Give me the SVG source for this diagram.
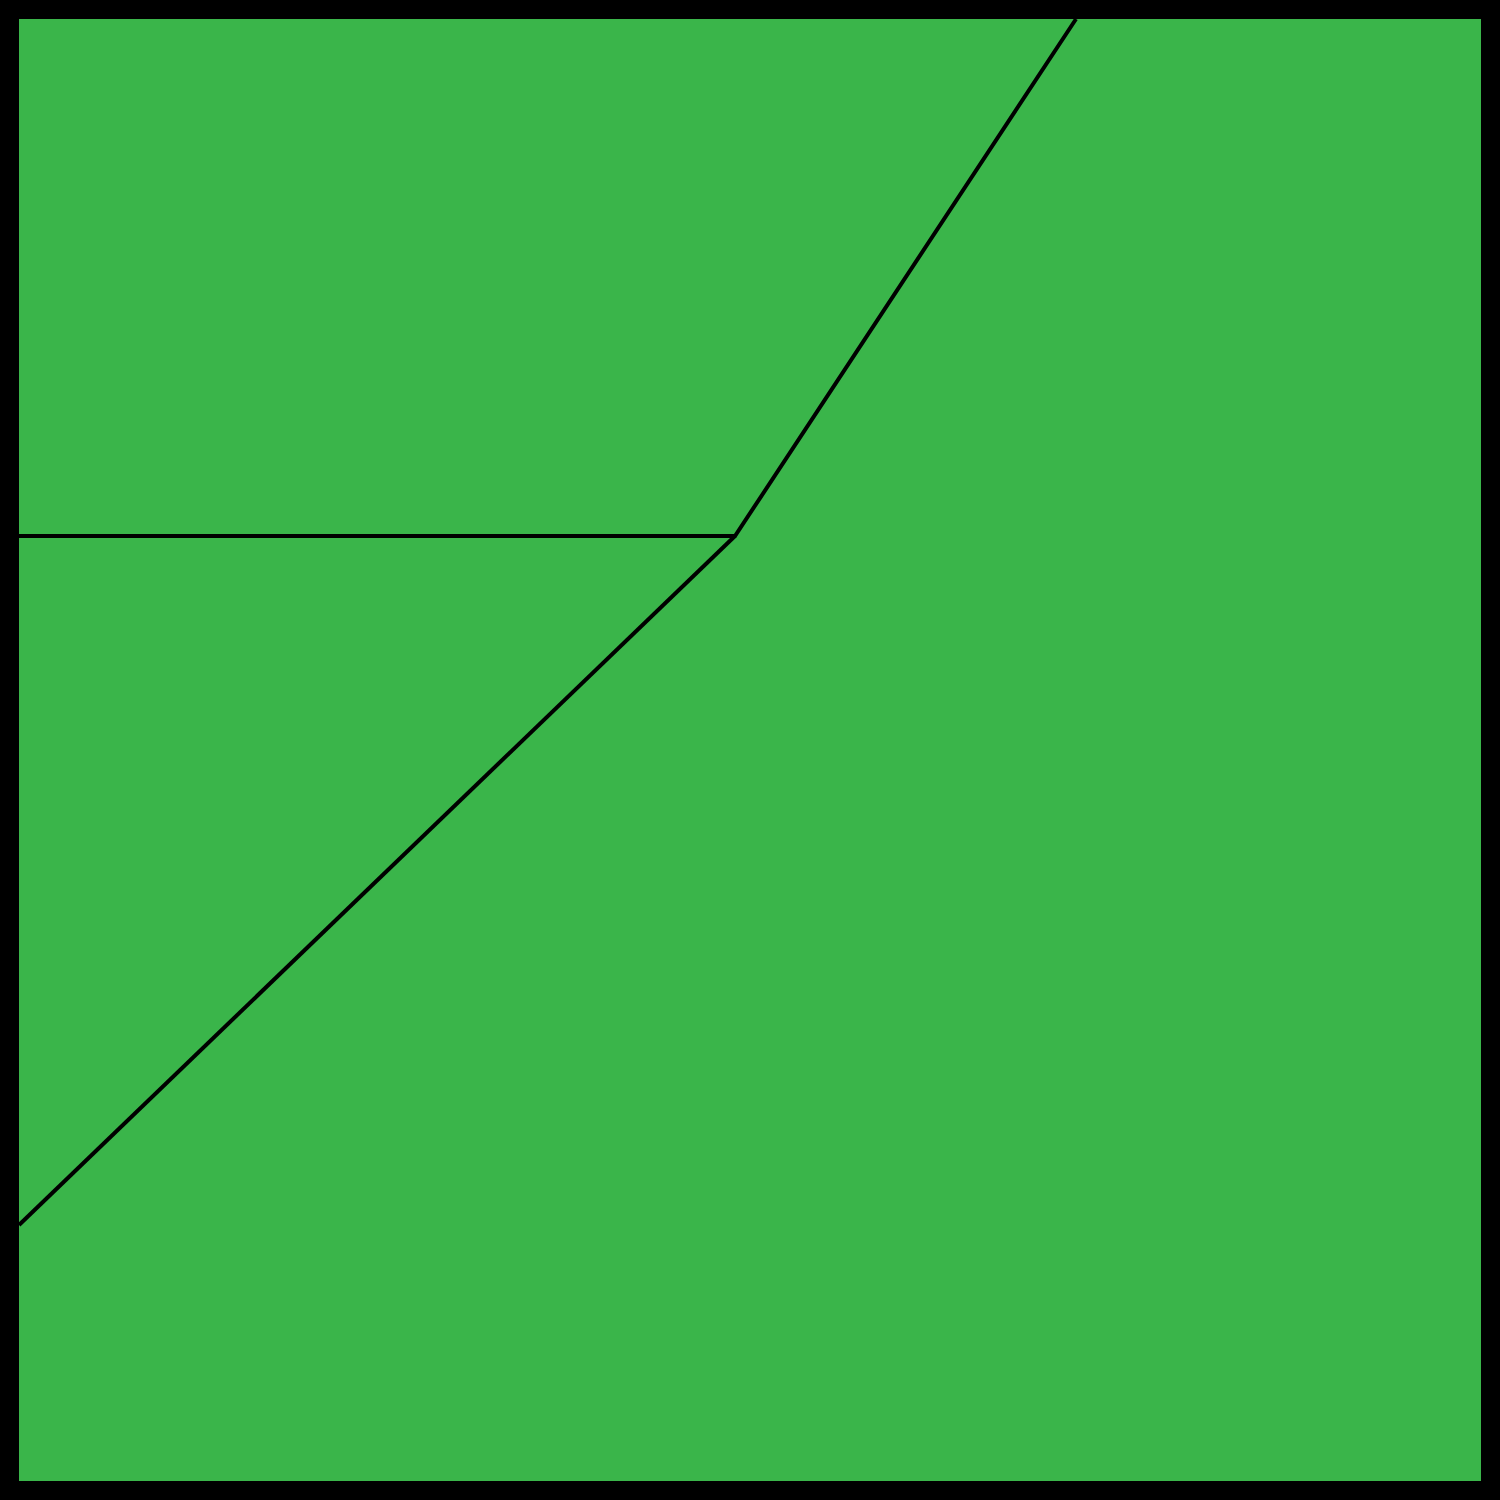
<svg xmlns="http://www.w3.org/2000/svg" width="1500" height="1500" viewBox="0 0 1500 1500">
<style>
.frame{fill:#3AB54A;stroke:#000;stroke-width:19}
.edge{fill:none;stroke:#000;stroke-width:4;stroke-linejoin:miter}
</style>
<g id="field">
<rect class="frame" x="9.5" y="9.5" width="1481" height="1481"/>
</g>
<g id="connectors">
<polyline class="edge" points="19,536 735,536 1076,19"/>
<line class="edge" x1="735" y1="536" x2="19" y2="1225"/>
</g>
</svg>
